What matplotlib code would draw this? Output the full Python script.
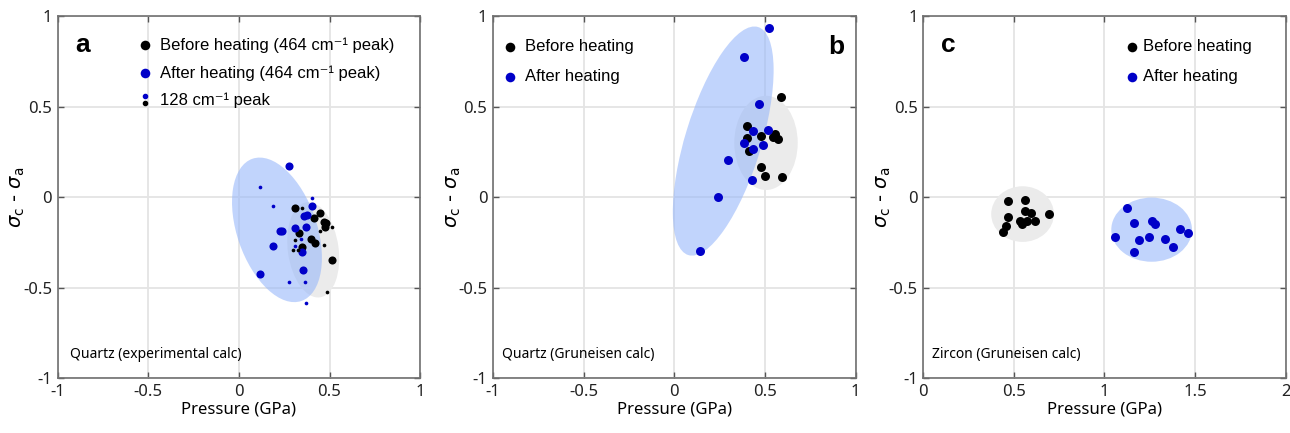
import matplotlib
matplotlib.use("Agg")
import matplotlib.pyplot as plt
from matplotlib.patches import Ellipse
import numpy as np

# ---- panel a: quartz, experimental calc ----
a_before_x = [0.311, 0.450, 0.468, 0.480, 0.474, 0.413, 0.329, 0.398, 0.422, 0.348, 0.515]
a_before_y = [-0.060, -0.087, -0.134, -0.140, -0.162, -0.115, -0.198, -0.231, -0.253, -0.272, -0.345]
a_after_x = [0.279, 0.228, 0.187, 0.117, 0.348, 0.352, 0.404, 0.357, 0.376, 0.372, 0.311, 0.235]
a_after_y = [0.175, -0.185, -0.269, -0.424, -0.300, -0.400, -0.047, -0.102, -0.097, -0.166, -0.170, -0.189]
a_128_after_x = [0.117, 0.187, 0.404, 0.311, 0.344, 0.279, 0.367, 0.372]
a_128_after_y = [0.059, -0.046, -0.004, -0.268, -0.230, -0.470, -0.466, -0.582]
a_128_before_x = [0.348, 0.515, 0.468, 0.311, 0.324, 0.450, 0.487, 0.300]
a_128_before_y = [-0.060, -0.165, -0.262, -0.235, -0.290, -0.189, -0.523, -0.290]

# ---- panel b: quartz, Gruneisen calc ----
b_before_x = [0.589, 0.400, 0.400, 0.479, 0.556, 0.571, 0.547, 0.412, 0.479, 0.501, 0.597]
b_before_y = [0.551, 0.395, 0.327, 0.336, 0.351, 0.323, 0.330, 0.257, 0.165, 0.115, 0.109]
b_after_x = [0.523, 0.385, 0.467, 0.515, 0.436, 0.386, 0.433, 0.492, 0.298, 0.427, 0.243, 0.141]
b_after_y = [0.935, 0.772, 0.515, 0.373, 0.367, 0.300, 0.268, 0.286, 0.207, 0.093, -0.001, -0.294]

# ---- panel c: zircon, Gruneisen calc ----
c_before_x = [0.468, 0.563, 0.563, 0.596, 0.466, 0.694, 0.614, 0.545, 0.532, 0.570, 0.454, 0.439]
c_before_y = [-0.020, -0.013, -0.075, -0.086, -0.108, -0.095, -0.132, -0.149, -0.130, -0.130, -0.160, -0.191]
c_after_x = [1.122, 1.164, 1.260, 1.277, 1.060, 1.191, 1.246, 1.333, 1.377, 1.415, 1.460, 1.164]
c_after_y = [-0.057, -0.140, -0.130, -0.150, -0.222, -0.237, -0.219, -0.231, -0.272, -0.175, -0.200, -0.301]

# ellipses: (cx, cy, width, height, angle)
a_blue_ell = (0.21, -0.18, 0.83, 0.44, -71)
a_gray_ell = (0.41, -0.29, 0.53, 0.28, -82)
b_blue_ell = (0.27, 0.31, 1.316, 0.42, 73)
b_gray_ell = (0.506, 0.30, 0.35, 0.52, 0)
c_gray_ell = (0.548, -0.093, 0.346, 0.307, 0)
c_blue_ell = (1.26, -0.179, 0.445, 0.354, 0)

BLUE = "#0000c8"
BLUE_FILL = "#99b8fa"
GRAY_FILL = "#ebebeb"
SPINE = "#707070"
TXT = ["Liberation Sans", "DejaVu Sans"]
TICKF = "Noto Sans"
BIG = 34
SMALL = 7
LEG = 48

fig = plt.figure(figsize=(12.9, 4.33), dpi=100)
axs = [fig.add_axes([0.0447, 0.126, 0.281, 0.837]),
       fig.add_axes([0.3822, 0.126, 0.281, 0.837]),
       fig.add_axes([0.7157, 0.126, 0.281, 0.837])]


def style(ax, xlim, xticks):
    ax.set_xlim(xlim)
    ax.set_ylim(-1, 1)
    yt = [-1, -0.5, 0, 0.5, 1]
    ax.set_xticks(xticks)
    ax.set_yticks(yt)
    ax.set_xticklabels([f"{t:g}" for t in xticks], family=TICKF, fontsize=12)
    ax.set_yticklabels([f"{t:g}" for t in yt], family=TICKF, fontsize=12)
    ax.grid(True, color="#e4e4e4", linewidth=1.3, zorder=0)
    ax.set_axisbelow(True)
    for s in ax.spines.values():
        s.set_color(SPINE)
        s.set_linewidth(1.2)
    ax.tick_params(direction="in", length=4, width=1, color="#555555",
                   top=True, right=True, pad=4, labelcolor="#222222")
    ax.set_xlabel("Pressure (GPa)", family=TICKF, fontsize=12, labelpad=1)
    ax.set_ylabel(r"$\sigma_{\mathrm{c}}$ - $\sigma_{\mathrm{a}}$", fontsize=14,
                  labelpad=-3, math_fontfamily="dejavusans")


def ell(ax, p, color, z):
    cx, cy, w, h, ang = p
    ax.add_patch(Ellipse((cx, cy), w, h, angle=ang, facecolor=color,
                         edgecolor="none", alpha=0.6 if color == BLUE_FILL else 1.0,
                         zorder=z))


def legend_row(ax, x, y, color, label, tx):
    ax.scatter([x], [y], s=LEG, color=color, transform=ax.transAxes, zorder=5,
               clip_on=False, linewidths=0)
    ax.text(tx, y, label, transform=ax.transAxes, family=TXT, fontsize=12,
            va="center", ha="left")


# panel a
ax = axs[0]
style(ax, (-1, 1), [-1, -0.5, 0, 0.5, 1])
ell(ax, a_gray_ell, GRAY_FILL, 1)
ell(ax, a_blue_ell, BLUE_FILL, 2)
ax.scatter(a_before_x, a_before_y, s=BIG, color="black", zorder=3, linewidths=0)
ax.scatter(a_after_x, a_after_y, s=BIG, color=BLUE, zorder=3, linewidths=0)
ax.scatter(a_128_before_x, a_128_before_y, s=SMALL, color="black", zorder=4, linewidths=0)
ax.scatter(a_128_after_x, a_128_after_y, s=SMALL, color=BLUE, zorder=4, linewidths=0)
legend_row(ax, 0.241, 0.920, "black", "Before heating (464 cm\u207b\u00b9 peak)", 0.282)
legend_row(ax, 0.241, 0.843, BLUE, "After heating (464 cm\u207b\u00b9 peak)", 0.282)
ax.scatter([0.241], [0.779], s=SMALL + 2, color=BLUE, transform=ax.transAxes, clip_on=False)
ax.scatter([0.241], [0.760], s=SMALL + 2, color="black", transform=ax.transAxes, clip_on=False)
ax.text(0.282, 0.768, "128 cm\u207b\u00b9 peak", transform=ax.transAxes, family=TXT,
        fontsize=12, va="center")
ax.text(0.048, 0.92, "a", transform=ax.transAxes, family=TXT, fontsize=19,
        fontweight="bold", va="center")
ax.text(0.033, 0.065, "Quartz (experimental calc)", transform=ax.transAxes,
        family=TICKF, fontsize=10, va="center")

# panel b
ax = axs[1]
style(ax, (-1, 1), [-1, -0.5, 0, 0.5, 1])
ell(ax, b_gray_ell, GRAY_FILL, 1)
ell(ax, b_blue_ell, BLUE_FILL, 2)
ax.scatter(b_before_x, b_before_y, s=BIG + 8, color="black", zorder=3, linewidths=0)
ax.scatter(b_after_x, b_after_y, s=BIG + 8, color=BLUE, zorder=3, linewidths=0)
legend_row(ax, 0.047, 0.915, "black", "Before heating", 0.088)
legend_row(ax, 0.047, 0.833, BLUE, "After heating", 0.088)
ax.text(0.924, 0.915, "b", transform=ax.transAxes, family=TXT, fontsize=19,
        fontweight="bold", va="center")
ax.text(0.025, 0.065, "Quartz (Gruneisen calc)", transform=ax.transAxes,
        family=TICKF, fontsize=10, va="center")

# panel c
ax = axs[2]
style(ax, (0, 2), [0, 0.5, 1, 1.5, 2])
ell(ax, c_gray_ell, GRAY_FILL, 1)
ell(ax, c_blue_ell, BLUE_FILL, 2)
ax.scatter(c_before_x, c_before_y, s=BIG + 8, color="black", zorder=3, linewidths=0)
ax.scatter(c_after_x, c_after_y, s=BIG + 8, color=BLUE, zorder=3, linewidths=0)
legend_row(ax, 0.575, 0.915, "black", "Before heating", 0.607)
legend_row(ax, 0.575, 0.833, BLUE, "After heating", 0.607)
ax.text(0.048, 0.92, "c", transform=ax.transAxes, family=TXT, fontsize=19,
        fontweight="bold", va="center")
ax.text(0.025, 0.065, "Zircon (Gruneisen calc)", transform=ax.transAxes,
        family=TICKF, fontsize=10, va="center")

fig.savefig("out.png", dpi=100)
